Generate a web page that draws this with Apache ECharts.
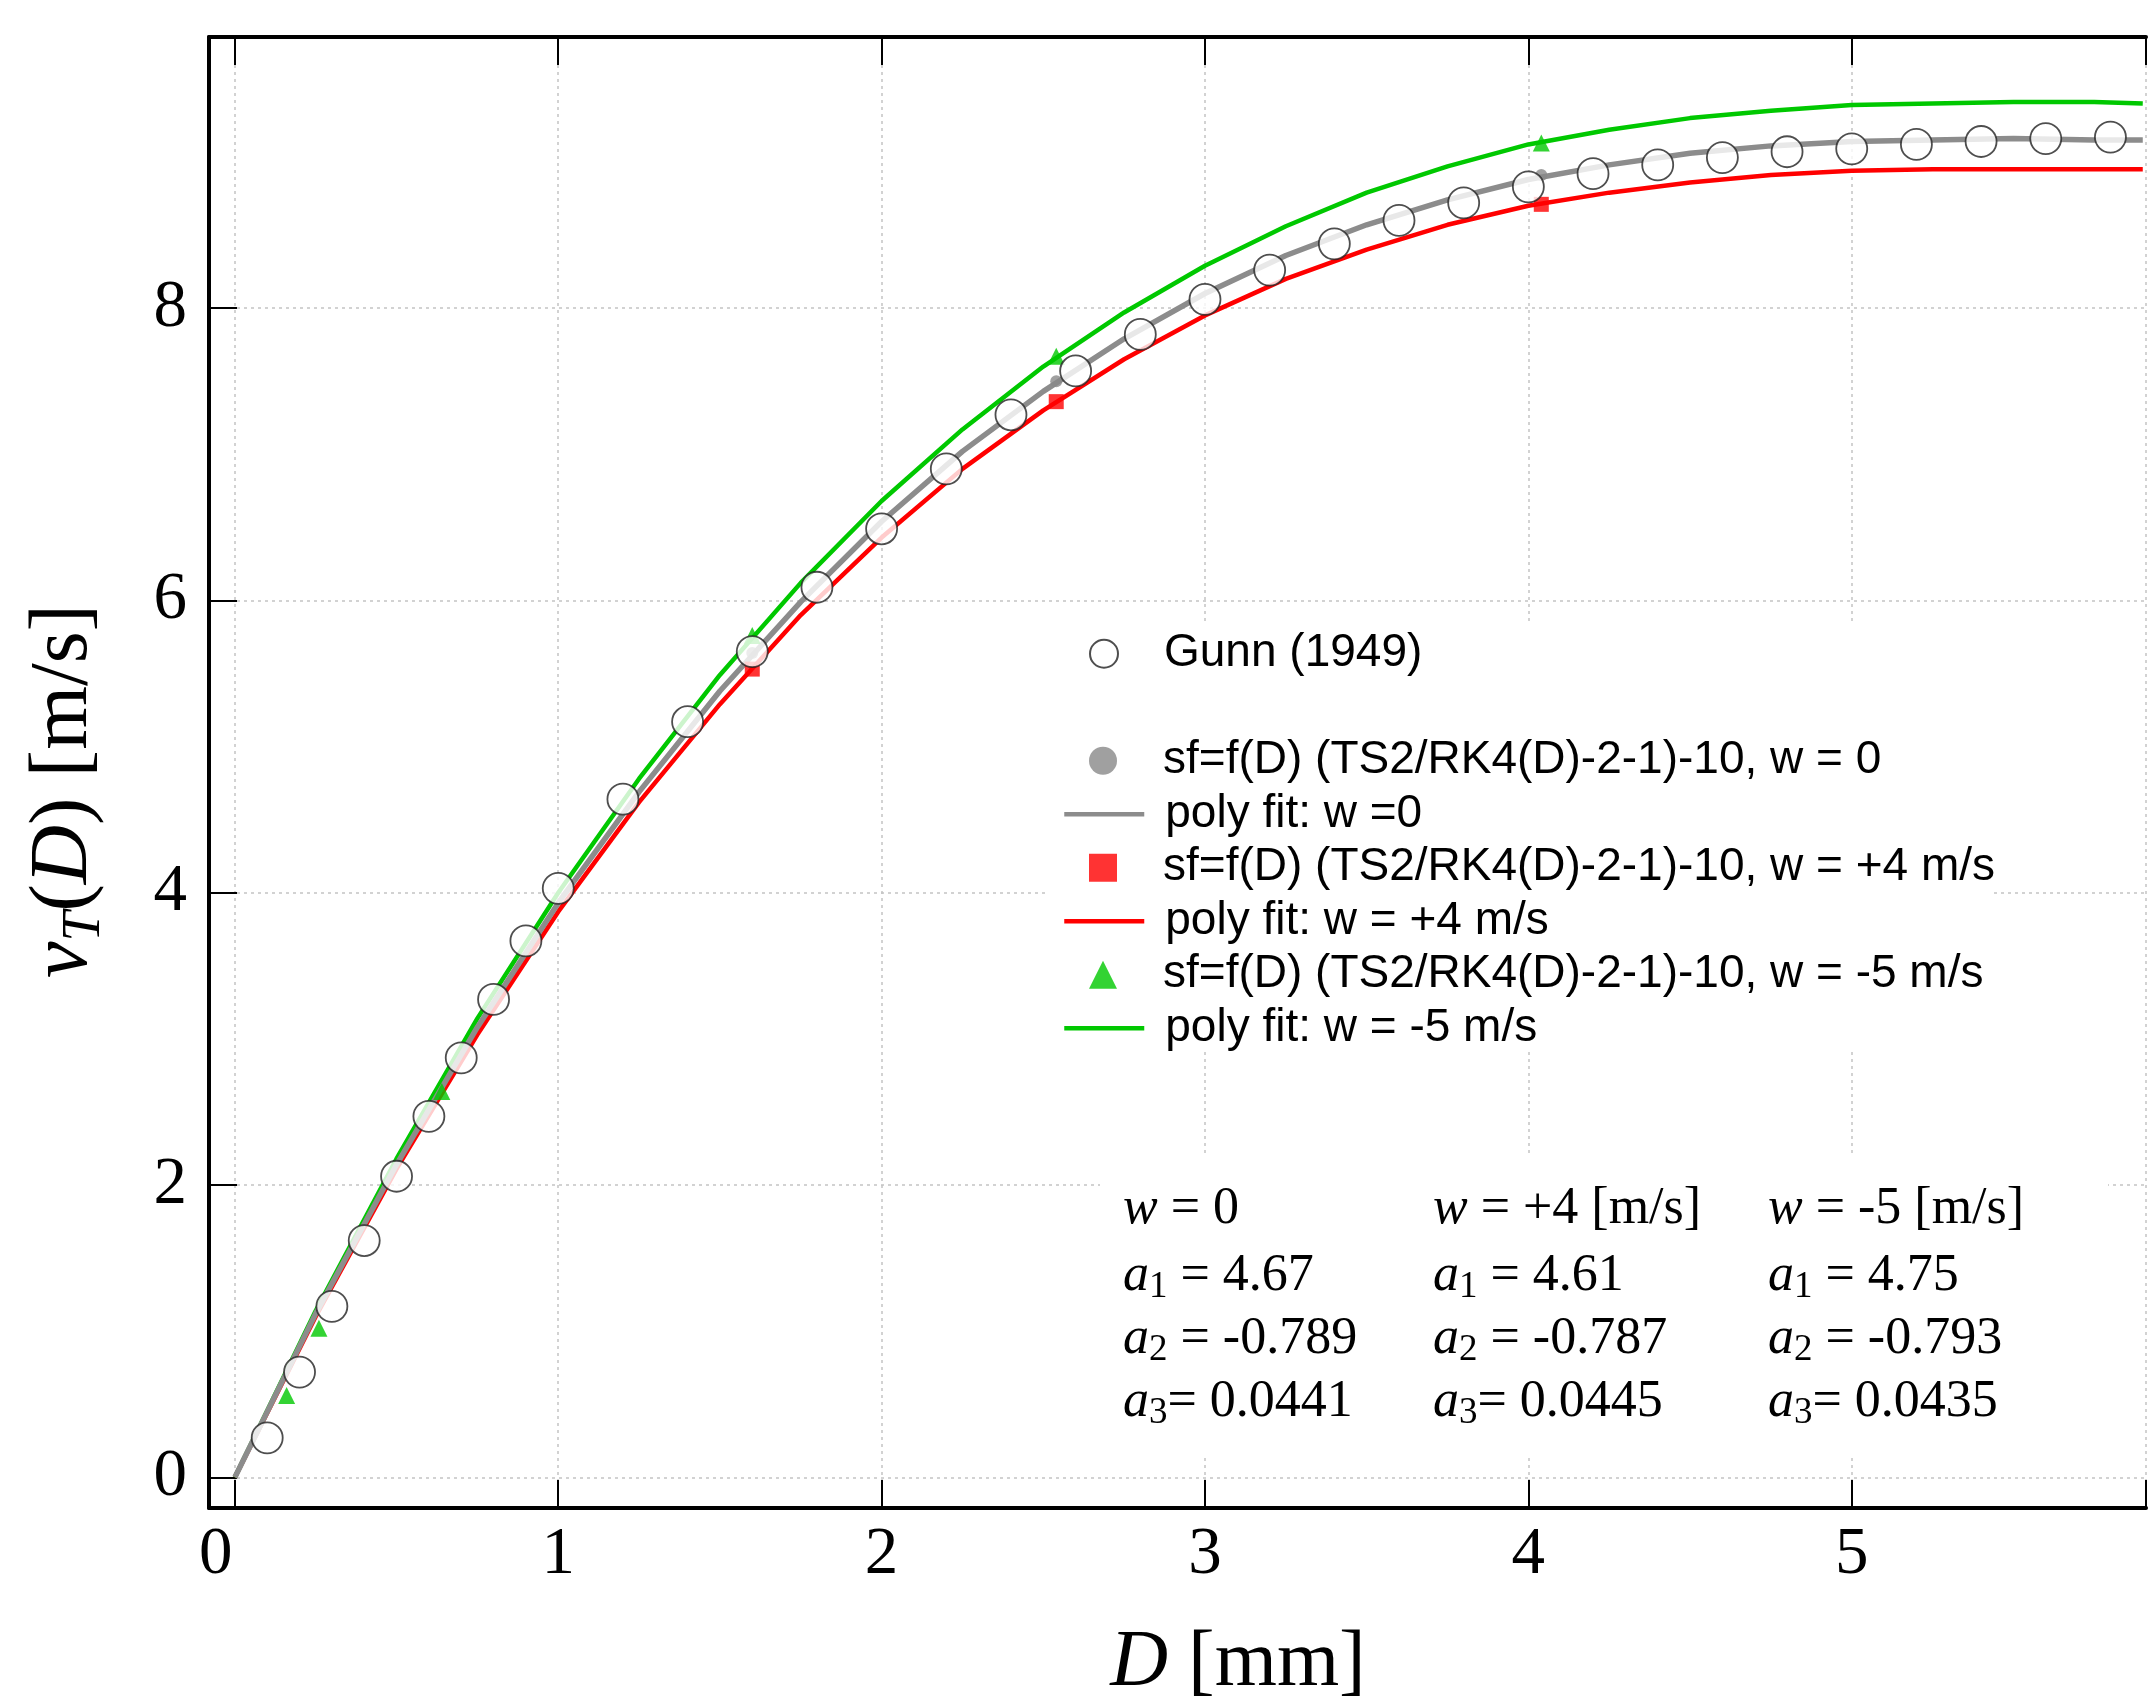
<!DOCTYPE html>
<html>
<head>
<meta charset="utf-8">
<title>v_T(D)</title>
<script src="https://cdn.jsdelivr.net/npm/echarts@6/dist/echarts.min.js"></script>
<style>
  html, body { margin: 0; padding: 0; background: #fff; }
  #chart { width: 2149px; height: 1698px; }
</style>
</head>
<body>
<div id="chart"></div>
<script>
// Gunn (1949) measurements
var gunnD = [0.1, 0.2, 0.3, 0.4, 0.5, 0.6, 0.7, 0.8, 0.9, 1.0, 1.2, 1.4, 1.6, 1.8, 2.0, 2.2, 2.4, 2.6, 2.8, 3.0,
             3.2, 3.4, 3.6, 3.8, 4.0, 4.2, 4.4, 4.6, 4.8, 5.0, 5.2, 5.4, 5.6, 5.8];
var gunnV = [0.27, 0.72, 1.17, 1.62, 2.06, 2.47, 2.87, 3.27, 3.67, 4.03, 4.64, 5.17, 5.65, 6.09, 6.49, 6.90, 7.27, 7.57, 7.82, 8.06,
             8.26, 8.44, 8.60, 8.72, 8.83, 8.92, 8.98, 9.03, 9.07, 9.09, 9.12, 9.14, 9.16, 9.17];

// poly fit curves
var fitD   = [0, 0.25, 0.5, 0.75, 1, 1.25, 1.5, 1.75, 2, 2.25, 2.5, 2.75, 3, 3.25, 3.5, 3.75, 4, 4.25, 4.5, 4.75, 5, 5.25, 5.5, 5.75, 5.9];
var fitW0  = [0, 1.12, 2.14, 3.08, 3.93, 4.69, 5.38, 5.99, 6.54, 7.02, 7.43, 7.79, 8.10, 8.36, 8.57, 8.74, 8.88, 8.98, 9.06, 9.11, 9.14, 9.15, 9.16, 9.15, 9.15];
var fitWp4 = [0, 1.10, 2.11, 3.03, 3.87, 4.62, 5.29, 5.90, 6.43, 6.90, 7.30, 7.65, 7.95, 8.20, 8.40, 8.57, 8.70, 8.79, 8.86, 8.91, 8.94, 8.95, 8.95, 8.95, 8.95];
var fitWm5 = [0, 1.14, 2.18, 3.14, 4.00, 4.78, 5.49, 6.12, 6.68, 7.17, 7.60, 7.97, 8.29, 8.56, 8.79, 8.97, 9.12, 9.22, 9.30, 9.35, 9.39, 9.40, 9.41, 9.41, 9.40];

// sf=f(D) model points
var sfD    = [1.6, 2.54, 4.04];
var sfW0   = [5.64, 7.50, 8.91];
var sfWp4  = [5.53, 7.36, 8.71];
var sfWm5D = [0.16, 0.26, 0.64, 1.6, 2.54, 4.04];
var sfWm5  = [0.56, 1.02, 2.64, 5.76, 7.67, 9.13];

// tick labels
var xTicks = [0, 1, 2, 3, 4, 5];
var yTicks = [0, 2, 4, 6, 8];

// fit coefficients table
var tableHead = ['0', '+4 [m/s]', '-5 [m/s]'];
var coefA1 = ['4.67', '4.61', '4.75'];
var coefA2 = ['-0.789', '-0.787', '-0.793'];
var coefA3 = ['0.0441', '0.0445', '0.0435'];

var names = {
    gunn: 'Gunn (1949)',
    sf0: 'sf=f(D) (TS2/RK4(D)-2-1)-10, w = 0',
    fit0: 'poly fit: w =0',
    sf4: 'sf=f(D) (TS2/RK4(D)-2-1)-10, w = +4 m/s',
    fit4: 'poly fit: w = +4 m/s',
    sf5: 'sf=f(D) (TS2/RK4(D)-2-1)-10, w = -5 m/s',
    fit5: 'poly fit: w = -5 m/s'
};

var serif = 'Liberation Serif, Times New Roman, serif';
var sans = 'Liberation Sans, Arial, sans-serif';

function pairs(xs, ys) {
    return xs.map(function (x, i) { return [x, ys[i]]; });
}

var chart = echarts.init(document.getElementById('chart'));

var axisLine = { onZero: false, lineStyle: { color: '#000', width: 4 } };
var axisTick = { inside: true, length: 28, lineStyle: { color: '#000', width: 2 } };
var gridLine = { show: true, lineStyle: { color: '#c4c4c4', width: 1.5, type: [3, 4] } };

// marker legends use a square icon box, line legends a wide one; text starts at the same x
function legendText(padLeft) {
    return { fontFamily: sans, fontSize: 46, color: '#000', lineHeight: 53.5, padding: [0, 0, 0, padLeft] };
}

// table text: one element per cell
var colX = [1123, 1433, 1768];
var rowY = [1209, 1276, 1339, 1402];
var tableRich = {
    it: { fontFamily: serif, fontSize: 52, fontStyle: 'italic' },
    sub: { fontFamily: serif, fontSize: 37, fontStyle: 'normal', lineHeight: 26, verticalAlign: 'bottom' }
};
var tableTexts = [];
colX.forEach(function (x, c) {
    var rows = [
        '{it|w} = ' + tableHead[c],
        '{it|a}{sub|1} = ' + coefA1[c],
        '{it|a}{sub|2} = ' + coefA2[c],
        '{it|a}{sub|3}= ' + coefA3[c]
    ];
    rows.forEach(function (t, r) {
        tableTexts.push({
            type: 'text', x: x, y: rowY[r], z: 10,
            style: {
                text: t, fontFamily: serif, fontSize: 52, lineHeight: 60, fill: '#000',
                align: 'left', verticalAlign: 'middle', rich: tableRich
            }
        });
    });
});

var option = {
    animation: false,
    backgroundColor: '#fff',
    grid: { left: 209, top: 37, bottom: 190, right: -3, containLabel: false },
    xAxis: [{
        type: 'value', min: -0.08, max: 5.91, minInterval: 1, maxInterval: 1,
        axisLine: axisLine, axisTick: axisTick,
        axisLabel: {
            margin: 14, fontFamily: serif, fontSize: 67, color: '#000',
            formatter: function (v) {
                if (xTicks.indexOf(v) < 0) return '';
                return v === 0 ? '{z|0}' : String(v);
            },
            rich: { z: { fontFamily: serif, fontSize: 67, color: '#000', padding: [0, 38, 0, 0] } }
        },
        splitLine: gridLine
    }, {
        type: 'value', position: 'top', min: -0.08, max: 5.91, minInterval: 1, maxInterval: 1,
        axisLine: axisLine, axisTick: axisTick,
        axisLabel: { show: false }, splitLine: { show: false }
    }],
    yAxis: {
        type: 'value', min: -0.21, max: 9.855, minInterval: 2, maxInterval: 2,
        axisLine: axisLine, axisTick: axisTick,
        axisLabel: {
            margin: 22, fontFamily: serif, fontSize: 67, color: '#000',
            formatter: function (v) { return yTicks.indexOf(v) >= 0 ? String(v) : ''; }
        },
        splitLine: gridLine
    },
    legend: [{
        data: [names.gunn],
        orient: 'vertical', left: 1089, top: 627, padding: 0,
        itemWidth: 28, itemHeight: 28, itemGap: 0, selectedMode: false,
        textStyle: legendText(41)
    }, {
        data: [names.sf0, names.sf4, names.sf5],
        orient: 'vertical', left: 1089, top: 734, padding: 0,
        itemWidth: 28, itemHeight: 28, itemGap: 53.5, selectedMode: false,
        textStyle: legendText(41)
    }, {
        data: [names.fit0, names.fit4, names.fit5],
        orient: 'vertical', left: 1062, top: 787.5, padding: 0,
        itemWidth: 80, itemHeight: 28, itemGap: 53.5, selectedMode: false,
        itemStyle: { opacity: 0 },
        lineStyle: { width: 4.5 },
        textStyle: legendText(16)
    }],
    graphic: [
        { type: 'rect', z: 1, silent: true, shape: { x: 1048, y: 624, width: 944, height: 428 }, style: { fill: '#fff' } },
        { type: 'rect', z: 1, silent: true, shape: { x: 1100, y: 1155, width: 1008, height: 301 }, style: { fill: '#fff' } },
        {
            type: 'text', x: 1238, y: 1664, z: 10,
            style: {
                text: '{it|D} [mm]', fontFamily: serif, fontSize: 80, fill: '#000',
                align: 'center', verticalAlign: 'middle',
                rich: { it: { fontFamily: serif, fontSize: 80, fontStyle: 'italic' } }
            }
        },
        {
            type: 'text', x: 64, y: 791, rotation: Math.PI / 2, z: 10,
            style: {
                text: '{it|v}{sub|T}({it|D}) [m/s]', fontFamily: serif, fontSize: 82, lineHeight: 96, fill: '#000',
                align: 'center', verticalAlign: 'middle',
                rich: {
                    it: { fontFamily: serif, fontSize: 82, fontStyle: 'italic' },
                    sub: { fontFamily: serif, fontStyle: 'italic', fontSize: 54, lineHeight: 40, verticalAlign: 'bottom' }
                }
            }
        }
    ].concat(tableTexts),
    series: [{
        name: names.fit4, type: 'line', data: pairs(fitD, fitWp4), symbol: 'none', z: 2,
        lineStyle: { color: '#ff0000', width: 4.5 }, itemStyle: { color: '#ff0000' }
    }, {
        name: names.fit5, type: 'line', data: pairs(fitD, fitWm5), symbol: 'none', z: 2,
        lineStyle: { color: '#00c800', width: 4.5 }, itemStyle: { color: '#00c800' }
    }, {
        name: names.fit0, type: 'line', data: pairs(fitD, fitW0), symbol: 'none', z: 3,
        lineStyle: { color: '#8c8c8c', width: 5.5 }, itemStyle: { color: '#8c8c8c' }
    }, {
        name: names.sf0, type: 'scatter', data: pairs(sfD, sfW0), symbol: 'circle', symbolSize: 12, z: 4,
        itemStyle: { color: '#888888' }
    }, {
        name: names.sf4, type: 'scatter', data: pairs(sfD, sfWp4), symbol: 'rect', symbolSize: 15, z: 4,
        itemStyle: { color: '#ff0000' }
    }, {
        name: names.sf5, type: 'scatter', data: pairs(sfWm5D, sfWm5), symbol: 'triangle', symbolSize: 17, z: 4,
        itemStyle: { color: '#00c800' }
    }, {
        name: names.gunn, type: 'scatter', data: pairs(gunnD, gunnV), symbol: 'circle', symbolSize: 31, z: 5,
        itemStyle: { color: '#ffffff', borderColor: '#222222', borderWidth: 1.8 }
    }]
};

chart.setOption(option);
</script>
</body>
</html>
